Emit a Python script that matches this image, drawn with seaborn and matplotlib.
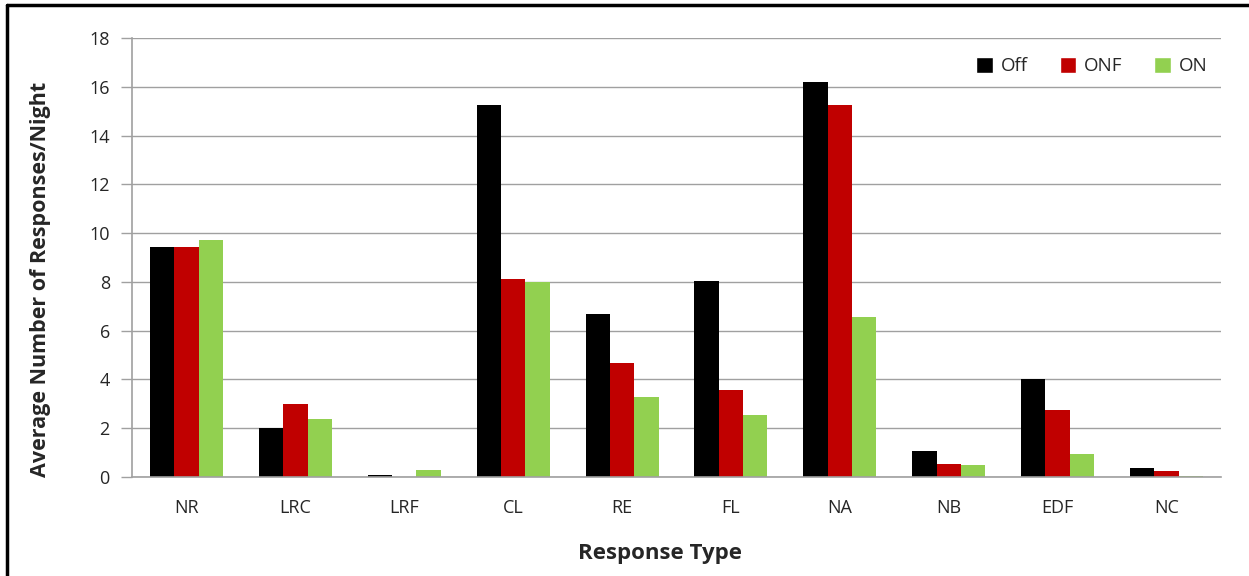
import pandas as pd
import numpy as np
import matplotlib.pyplot as plt
import seaborn as sns
from matplotlib.lines import Line2D
from matplotlib.patches import Patch

categories = ['NR', 'LRC', 'LRF', 'CL', 'RE', 'FL', 'NA', 'NB', 'EDF', 'NC']
off = [9.45, 2.0, 0.1, 15.25, 6.7, 8.05, 16.2, 1.08, 4.02, 0.36]
onf = [9.45, 3.0, 0.0, 8.1, 4.67, 3.56, 15.27, 0.54, 2.76, 0.23]
on = [9.7, 2.38, 0.29, 8.0, 3.27, 2.56, 6.58, 0.49, 0.94, 0.05]
series = ['Off', 'ONF', 'ON']
colors = ['#000000', '#C00000', '#92D050']

data = pd.DataFrame({
    'type': categories * 3,
    'value': off + onf + on,
    'series': ['Off'] * 10 + ['ONF'] * 10 + ['ON'] * 10,
})

sns.set_style('white')
plt.rcParams['font.family'] = ['Open Sans', 'DejaVu Sans']

fig = plt.figure(figsize=(12.49, 5.76), dpi=100)
ax = fig.add_axes([132 / 1249, 1 - 477 / 576, 1089 / 1249, 439 / 576])

sns.barplot(data=data, x='type', y='value', hue='series', hue_order=series,
            palette=colors, width=0.67, saturation=1, linewidth=0, ax=ax, legend=False)

ax.set_ylim(0, 18)
ax.set_xlim(-0.5, len(categories) - 0.5)
ax.set_yticks(np.arange(0, 19, 2))
ax.yaxis.grid(True, color='#A0A0A0', linewidth=1)
ax.set_axisbelow(True)

for s in ['top', 'right']:
    ax.spines[s].set_visible(False)
for s in ['left', 'bottom']:
    ax.spines[s].set_color('#A0A0A0')
    ax.spines[s].set_linewidth(1.2)

ax.set_xticks(np.arange(-0.5, len(categories), 1), minor=True)
ax.tick_params(axis='x', which='major', length=0, pad=16, labelsize=13, colors='#262626')
ax.tick_params(axis='x', which='minor', length=6, width=1.2, color='#A0A0A0', direction='out')
ax.tick_params(axis='y', length=8, width=1, color='#A0A0A0', direction='out', pad=8,
               labelsize=13, labelcolor='#262626')
ax.tick_params(axis='both', bottom=True, left=True)

ax.set_xlabel('Response Type', fontsize=16, fontweight='bold')
ax.xaxis.set_label_coords(0.485, -0.15)
ax.set_ylabel('Average Number of Responses/Night', fontsize=15.5, fontweight='bold')
ax.yaxis.set_label_coords(-0.074, 0.45)

handles = [Patch(facecolor=c, label=s) for s, c in zip(series, colors)]
ax.legend(handles=handles, loc='upper right', bbox_to_anchor=(1.003, 0.995), ncol=3,
          frameon=False, fontsize=13.5, handlelength=0.9, handleheight=0.9,
          handletextpad=0.4, columnspacing=1.7)

# frame lines at top and left of the image
fig.add_artist(Line2D([7 / 1249, 7 / 1249], [0, 1 - 5 / 576], color='black', linewidth=2.5,
                      transform=fig.transFigure))
fig.add_artist(Line2D([7 / 1249, 1], [1 - 5 / 576, 1 - 5 / 576], color='black', linewidth=2.5,
                      transform=fig.transFigure))

fig.savefig('out.png', dpi=100)
